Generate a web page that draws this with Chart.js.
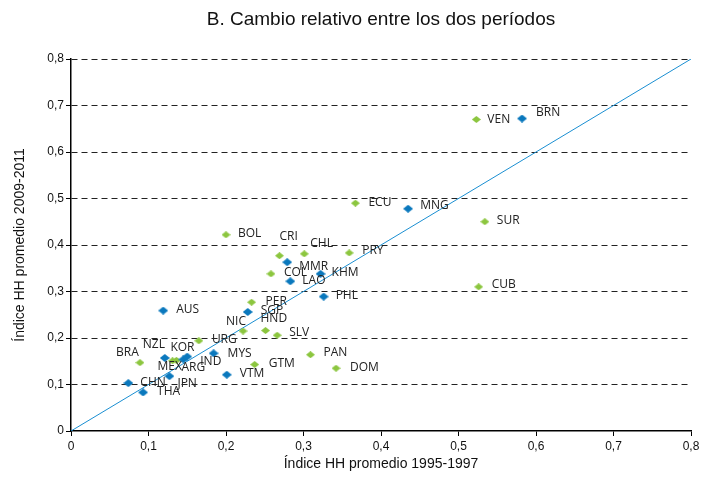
<!DOCTYPE html>
<html>
<head>
<meta charset="utf-8">
<script src="https://cdn.jsdelivr.net/npm/chart.js@4/dist/chart.umd.min.js"></script>
<style>
html,body{margin:0;padding:0;background:#fff;}
#wrap{width:712px;height:478px;position:relative;}
</style>
</head>
<body>
<div id="wrap"><canvas id="c"></canvas></div>
<script>
// ---- Data ----
const titleText = "B. Cambio relativo entre los dos períodos";
const xAxisTitle = "Índice HH promedio 1995-1997";
const yAxisTitle = "Índice HH promedio 2009-2011";
const tickValues = [0, 0.1, 0.2, 0.3, 0.4, 0.5, 0.6, 0.7, 0.8];
const tickLabels = ["0", "0,1", "0,2", "0,3", "0,4", "0,5", "0,6", "0,7", "0,8"];

// Asia-Pacific (blue)
const asiaCodes = ["AUS","NZL","KOR","IND","CHN","THA","JPN","MYS","VTM","SGP","LAO","MMR","KHM","PHL","MNG","BRN"];
const asiaX = [0.119,0.121,0.145,0.150,0.074,0.093,0.127,0.184,0.201,0.228,0.283,0.279,0.322,0.326,0.435,0.582];
const asiaY = [0.259,0.157,0.154,0.160,0.103,0.083,0.118,0.167,0.121,0.256,0.322,0.363,0.338,0.289,0.478,0.672];

// Latin America (green)
const latamCodes = ["BOL","BRA","MEX","ARG","URG","GTM","NIC","HND","SLV","PER","COL","CRI","CHL","PAN","DOM","ECU","PRY","VEN","SUR","CUB"];
const latamX = [0.200,0.089,0.131,0.136,0.165,0.237,0.222,0.251,0.266,0.233,0.258,0.269,0.301,0.309,0.342,0.367,0.359,0.523,0.534,0.526];
const latamY = [0.422,0.147,0.151,0.152,0.194,0.143,0.215,0.216,0.206,0.277,0.338,0.377,0.381,0.164,0.135,0.490,0.383,0.670,0.450,0.310];

// 45-degree reference line
const diagX = [0, 0.8];
const diagY = [0, 0.8];

// ---- Styling (label placement offsets, px from marker to text left/center) ----
const labelOffsets = {
  AUS:[13,-1], NZL:[-22,-13], KOR:[-13,-12], IND:[13,5], CHN:[12,-1], THA:[14,-1],
  JPN:[8,7], MYS:[14,0], VTM:[13,-1], SGP:[13,-1], LAO:[12,-1], MMR:[12,4],
  KHM:[11,-1], PHL:[12,-1], MNG:[12,-3], BRN:[14,-6],
  BOL:[12,-1], BRA:[-24,-10], MEX:[-15,6], ARG:[5,7], URG:[13,-1], GTM:[14,-1],
  NIC:[-17,-9], HND:[-5,-12], SLV:[12,-3], PER:[14,-1], COL:[13,-1], CRI:[0,-19],
  CHL:[6,-10], PAN:[13,-2], DOM:[14,-1], ECU:[13,-1], PRY:[13,-2], VEN:[11,0],
  SUR:[12,-1], CUB:[13,-2]
};

function diamond(w, h, color) {
  const c = document.createElement('canvas');
  c.width = w; c.height = h;
  const g = c.getContext('2d');
  g.fillStyle = color;
  g.beginPath();
  g.moveTo(w/2, 0); g.lineTo(w, h/2); g.lineTo(w/2, h); g.lineTo(0, h/2);
  g.closePath(); g.fill();
  return c;
}
const blueDiamond = diamond(10, 8, '#0a78bd');
const greenDiamond = diamond(9, 7, '#8cc63f');

const toPts = (xs, ys) => xs.map((x, i) => ({x: x, y: ys[i]}));

const labelPlugin = {
  id: 'labels',
  afterDatasetsDraw(chart) {
    const ctx = chart.ctx;
    ctx.save();
    ctx.font = '12px "Open Sans", "Noto Sans", sans-serif';
    ctx.fillStyle = '#222';
    ctx.textAlign = 'left';
    ctx.textBaseline = 'middle';
    chart.data.datasets.forEach((ds, di) => {
      if (!ds.codes) return;
      const meta = chart.getDatasetMeta(di);
      meta.data.forEach((el, i) => {
        const code = ds.codes[i];
        const off = labelOffsets[code] || [12, 0];
        ctx.fillText(code, el.x + off[0], el.y + off[1]);
      });
    });
    ctx.restore();
  }
};

const titlePlugin = {
  id: 'topTitle',
  afterDraw(chart) {
    const ctx = chart.ctx;
    ctx.save();
    ctx.font = '19px "Liberation Sans", Arial, sans-serif';
    ctx.fillStyle = '#111';
    ctx.textAlign = 'center';
    ctx.textBaseline = 'middle';
    const a = chart.chartArea;
    ctx.fillText(titleText, (a.left + a.right) / 2, 20);
    ctx.restore();
  }
};

const bgPlugin = {
  id: 'bg',
  beforeDraw(chart) {
    const ctx = chart.ctx;
    ctx.save(); ctx.fillStyle = '#fff';
    ctx.fillRect(0, 0, chart.width, chart.height);
    ctx.restore();
  }
};

const tickFmt = (v) => {
  const i = tickValues.findIndex(t => Math.abs(t - v) < 1e-9);
  return i >= 0 ? tickLabels[i] : '';
};

new Chart(document.getElementById('c'), {
  type: 'scatter',
  data: {
    datasets: [
      {
        type: 'line',
        data: toPts(diagX, diagY),
        borderColor: '#1b8fd2',
        borderWidth: 1,
        pointRadius: 0,
        fill: false,
        order: 3
      },
      {
        codes: latamCodes,
        data: toPts(latamX, latamY),
        pointStyle: greenDiamond,
        pointRadius: 4,
        order: 2
      },
      {
        codes: asiaCodes,
        data: toPts(asiaX, asiaY),
        pointStyle: blueDiamond,
        pointRadius: 5,
        order: 1
      }
    ]
  },
  options: {
    responsive: true,
    maintainAspectRatio: false,
    animation: false,
    events: [],
    layout: { padding: { top: 59, right: 21, bottom: 0, left: 0 } },
    plugins: { legend: { display: false }, tooltip: { enabled: false }, title: { display: false } },
    scales: {
      x: {
        type: 'linear', min: 0, max: 0.8,
        afterFit: (s) => { s.height = 47; },
        ticks: { stepSize: 0.1, callback: tickFmt, color: '#111', padding: 3, maxRotation: 0,
                 font: { family: '"Liberation Sans", Arial, sans-serif', size: 12 } },
        grid: { drawOnChartArea: false, drawTicks: true, tickLength: 5, tickColor: '#000' },
        border: { display: true, color: '#000', width: 1.5 },
        title: { display: true, text: xAxisTitle, color: '#111', padding: { top: 0, bottom: 5 },
                 font: { family: '"Liberation Sans", Arial, sans-serif', size: 14 } }
      },
      y: {
        type: 'linear', min: 0, max: 0.8,
        afterFit: (s) => { s.width = 71; },
        ticks: { stepSize: 0.1, callback: tickFmt, color: '#111', padding: 2,
                 font: { family: '"Liberation Sans", Arial, sans-serif', size: 12 } },
        grid: { drawOnChartArea: true, drawTicks: true, tickLength: 5, tickColor: '#000',
                color: (c) => (c.tick && c.tick.value === 0) ? 'rgba(0,0,0,0)' : '#222', lineWidth: 1 },
        border: { display: true, color: '#000', width: 1.5, dash: [6, 4] },
        title: { display: true, text: yAxisTitle, color: '#111', padding: { top: 12, bottom: 0 },
                 font: { family: '"Liberation Sans", Arial, sans-serif', size: 14 } }
      }
    }
  },
  plugins: [bgPlugin, labelPlugin, titlePlugin]
});
</script>
</body>
</html>
